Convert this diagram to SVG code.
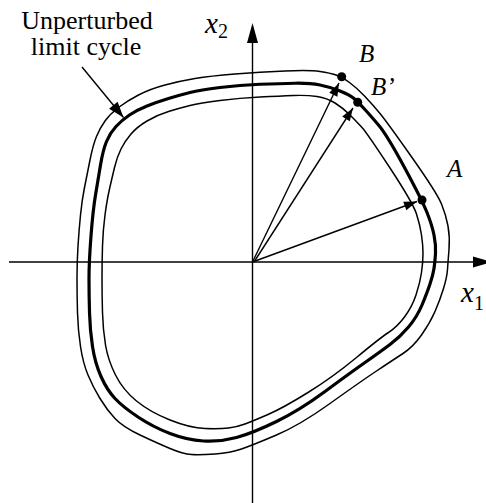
<svg xmlns="http://www.w3.org/2000/svg" width="486" height="503" viewBox="0 0 486 503">
<style>
.thin{fill:none;stroke:#000;stroke-width:1.5;stroke-linejoin:round}
.thick{fill:none;stroke:#000;stroke-width:3.2;stroke-linejoin:round}
.ax{stroke:#000;stroke-width:1.4;fill:none}
.vec{stroke:#000;stroke-width:1.4;fill:none}
.lbl{font-family:"Liberation Serif","Times New Roman",serif;fill:#000}
.it{font-style:italic}
.dot{fill:#000}
</style>
<defs>
<marker id="ah" markerUnits="userSpaceOnUse" viewBox="-14 -6 16 12" markerWidth="16" markerHeight="12" refX="0" refY="0" orient="auto">
<path d="M0,0 L-13,-4.5 L-13,4.5 Z" fill="#000"/>
</marker>
<marker id="ah2" markerUnits="userSpaceOnUse" viewBox="-17 -7 19 14" markerWidth="19" markerHeight="14" refX="0" refY="0" orient="auto">
<path d="M0,0 L-16,-5.5 L-16,5.5 Z" fill="#000"/>
</marker>
</defs>

<g id="axes">
<line class="ax" x1="9" y1="262" x2="476" y2="262"/>
<polygon points="492,262 473,256.5 473,267.5" fill="#000"/>
<line class="ax" x1="252.5" y1="503" x2="252.5" y2="40"/>
<polygon points="252.5,23 247,43 258,43" fill="#000"/>
<text class="lbl" x="205" y="33" font-size="29"><tspan class="it">x</tspan><tspan font-size="20" dy="5">2</tspan></text>
<text class="lbl" x="461" y="302" font-size="29"><tspan class="it">x</tspan><tspan font-size="20" dy="8">1</tspan></text>
</g>

<g id="curves">
<path id="outer" class="thin" d="M77,278.5 Q77,262 78,246 Q79,230 80.5,215 Q82,200 84.5,187.5 Q87,175 90,160 Q93,145 96.5,136.5 Q100,128 105,121 Q110,114 118.5,107.5 Q127,101 138.5,95 Q150,89 165,85 Q180,81 195,78.5 Q210,76 235,74 Q260,72 285,71 Q310,70 320,71.5 Q330,73 336,75 Q342,77 349.5,82.5 Q357,88 365,96.5 Q373,105 380,113.5 Q387,122 412,157.5 Q437,193 441.5,204 Q446,215 448,226 Q450,237 449,249.5 Q448,262 447.5,269.5 Q447,277 443.5,288.5 Q440,300 435,311.5 Q430,323 421.5,335 Q413,347 403,353.5 Q393,360 376.5,371 Q360,382 330,403.5 Q300,425 276.5,435 Q253,445 241.5,449 Q230,453 215,454 Q200,455 191.5,454.5 Q183,454 170,448.5 Q157,443 140,435 Q123,427 115,418.5 Q107,410 100,398.5 Q93,387 88,375 Q83,363 80.5,346.5 Q78,330 77.5,312.5 Q77,295 77,278.5 Z"/>
<path id="cycle" class="thick" d="M89,278.5 Q89,262 91,236 Q93,210 95.5,195 Q98,180 100.5,165 Q103,150 106.5,141.5 Q110,133 116,126.5 Q122,120 129.5,115 Q137,110 147,106 Q157,102 168.5,98.5 Q180,95 190,92.5 Q200,90 220,87.5 Q240,85 260,84.25 Q280,83.5 295,83.25 Q310,83 320,85 Q330,87 340,91 Q350,95 354,98.5 Q358,102 364,108.5 Q370,115 378.5,125 Q387,135 404.5,167.5 Q422,200 427,212.5 Q432,225 434,235 Q436,245 435.5,253.5 Q435,262 434,268.5 Q433,275 430,284 Q427,293 422,305 Q417,317 408.5,327 Q400,337 390,344.5 Q380,352 365,362.5 Q350,373 325,391.5 Q300,410 276.5,421.5 Q253,433 236.5,437.5 Q220,442 203.5,441 Q187,440 170,433.5 Q153,427 138,417 Q123,407 115,398.5 Q107,390 101,376.5 Q95,363 92.5,346.5 Q90,330 89.5,312.5 Q89,295 89,278.5 Z"/>
<path id="inner" class="thin" d="M102,278.5 Q102,262 102.5,246 Q103,230 105,215 Q107,200 109.5,189 Q112,178 114.5,167.5 Q117,157 121,149 Q125,141 131,134 Q137,127 147,121 Q157,115 168.5,111.5 Q180,108 190,105.5 Q200,103 220,100.5 Q240,98 260,97 Q280,96 293.5,95.5 Q307,95 317,96.5 Q327,98 335,103 Q343,108 350,115 Q357,122 362,127.5 Q367,133 390,168 Q413,203 416.5,214 Q420,225 421.5,235 Q423,245 423,253.5 Q423,262 421.5,272.5 Q420,283 416,295 Q412,307 404.5,317 Q397,327 388.5,332.5 Q380,338 356.5,357.5 Q333,377 308,392.5 Q283,408 268,414.5 Q253,421 245,424 Q237,427 228.5,428 Q220,429 205,428.5 Q190,428 170,420 Q150,412 136.5,401 Q123,390 115.5,375 Q108,360 105.5,345 Q103,330 102.5,312.5 Q102,295 102,278.5 Z"/>
</g>

<g id="connectors">
<line class="vec" x1="252.5" y1="262" x2="339" y2="83" marker-end="url(#ah)"/>
<line class="vec" x1="254" y1="262" x2="353" y2="108" marker-end="url(#ah)"/>
<line class="vec" x1="252.5" y1="262" x2="417" y2="201.5" marker-end="url(#ah)"/>
<line class="vec" x1="82" y1="67" x2="123.5" y2="117.5" marker-end="url(#ah2)"/>
</g>

<g id="label-cycle">
<text class="lbl" x="87" y="29" font-size="26" text-anchor="middle">Unperturbed</text>
<text class="lbl" x="86" y="55" font-size="26" text-anchor="middle">limit cycle</text>
</g>
<g id="point-B">
<circle class="dot" cx="341.7" cy="76.7" r="4.5"/>
<text class="lbl it" x="359" y="62" font-size="25">B</text>
</g>
<g id="point-Bp">
<circle class="dot" cx="357.7" cy="102.3" r="4.5"/>
<text class="lbl it" x="371" y="95" font-size="25">B’</text>
</g>
<g id="point-A">
<circle class="dot" cx="422" cy="200" r="4.5"/>
<text class="lbl it" x="447" y="177" font-size="25">A</text>
</g>
</svg>
